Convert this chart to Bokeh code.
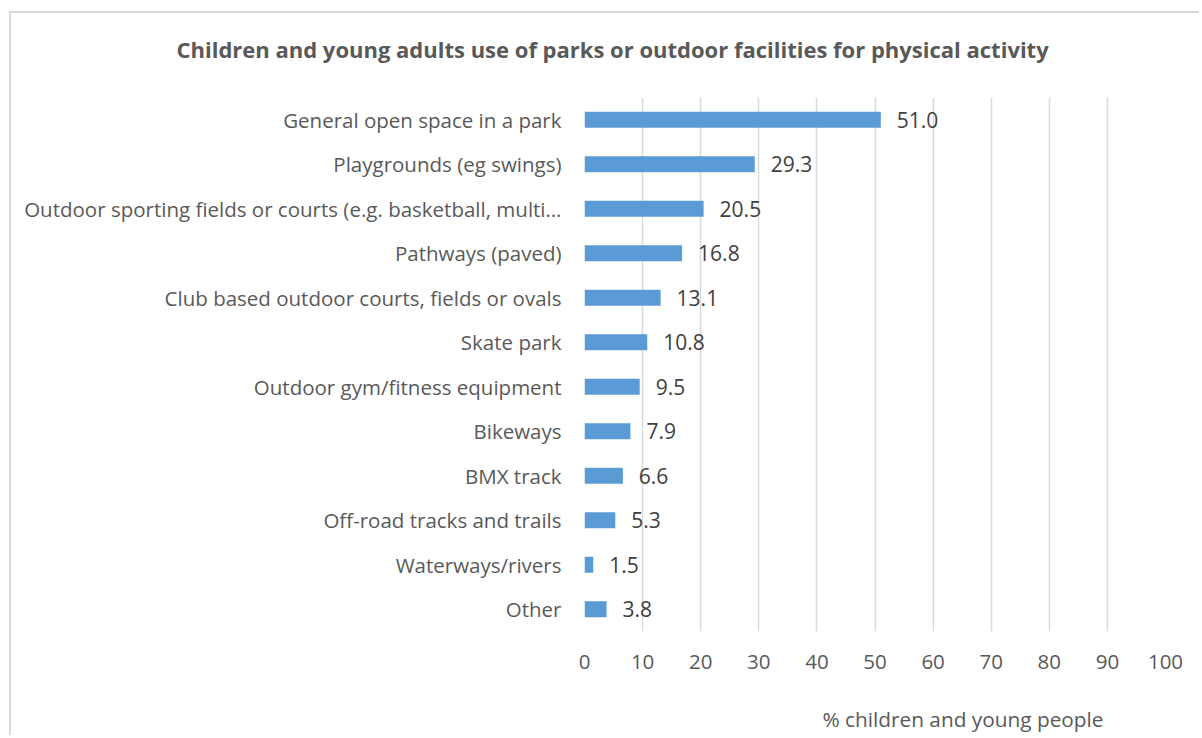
from bokeh.plotting import figure
from bokeh.models import Range1d, FactorRange, FixedTicker, ColumnDataSource, LabelSet, Title
from bokeh.core.properties import value
from bokeh.embed import file_html
from bokeh.resources import INLINE

categories = [
    "General open space in a park",
    "Playgrounds (eg swings)",
    "Outdoor sporting fields or courts (e.g. basketball, multi…",
    "Pathways (paved)",
    "Club based outdoor courts, fields or ovals",
    "Skate park",
    "Outdoor gym/fitness equipment",
    "Bikeways",
    "BMX track",
    "Off-road tracks and trails",
    "Waterways/rivers",
    "Other",
]
values = [51.0, 29.3, 20.5, 16.8, 13.1, 10.8, 9.5, 7.9, 6.6, 5.3, 1.5, 3.8]
ticks = [0, 10, 20, 30, 40, 50, 60, 70, 80, 90, 100]
title_text = "Children and young adults use of parks or outdoor facilities for physical activity"
xlabel_text = "% children and young people"

FONT = "Open Sans"
TXT = "#595959"

src = ColumnDataSource(dict(cat=categories, val=values,
                            lab=[f"{v:.1f}" for v in values]))

p = figure(width=1190, height=724, output_backend="svg", toolbar_location=None,
           y_range=FactorRange(factors=categories[::-1], range_padding=0),
           x_range=Range1d(0, 100),
           min_border_left=573, min_border_right=36,
           min_border_top=84, min_border_bottom=106)
p.margin = (11, 0, 0, 9)
p.styles = {"border-top": "2px solid #D9D9D9", "border-left": "2px solid #D9D9D9"}

p.hbar(y="cat", right="val", left=0, height=0.36, source=src,
       fill_color="#5B9BD5", line_color=None)

labels = LabelSet(x="val", y="cat", text="lab", source=src, x_offset=16,
                  text_baseline="middle", text_font=value(FONT), text_font_size="21px",
                  text_color="#404040")
p.add_layout(labels)

p.outline_line_color = None
p.background_fill_color = "white"
p.border_fill_color = "white"

p.xgrid.ticker = FixedTicker(ticks=ticks)
p.xgrid.grid_line_color = "#D9D9D9"
p.xgrid.grid_line_width = 1.5
p.ygrid.grid_line_color = None

p.xaxis.ticker = FixedTicker(ticks=ticks)
p.xaxis.axis_line_color = None
p.xaxis.major_tick_line_color = None
p.xaxis.minor_tick_line_color = None
p.xaxis.major_tick_out = 0
p.xaxis.major_label_standoff = 23
p.xaxis.major_label_text_font = FONT
p.xaxis.major_label_text_font_size = "20.5px"
p.xaxis.major_label_text_color = TXT

p.yaxis.axis_line_color = None
p.yaxis.major_tick_line_color = None
p.yaxis.major_tick_out = 0
p.yaxis.major_label_standoff = 23
p.yaxis.major_label_text_font = FONT
p.yaxis.major_label_text_font_size = "20.5px"
p.yaxis.major_label_text_color = TXT

# spacer between frame and chart title
p.add_layout(Title(text=" ", text_font_size="1px", standoff=31), "above")

p.title.text = title_text
p.title.align = "left"
p.title.offset = -408
p.title.standoff = 0
p.title.text_font = FONT
p.title.text_font_size = "22px"
p.title.text_font_style = "bold"
p.title.text_color = TXT

# spacer between tick labels and axis title
p.add_layout(Title(text=" ", text_font_size="1px", standoff=30), "below")
xt = Title(text=xlabel_text, align="left", offset=238,
           text_font=FONT, text_font_size="20.8px", text_font_style="normal",
           text_color=TXT, standoff=0, vertical_align="top")
p.add_layout(xt, "below")

open("out.html", "w").write(file_html(p, INLINE))
